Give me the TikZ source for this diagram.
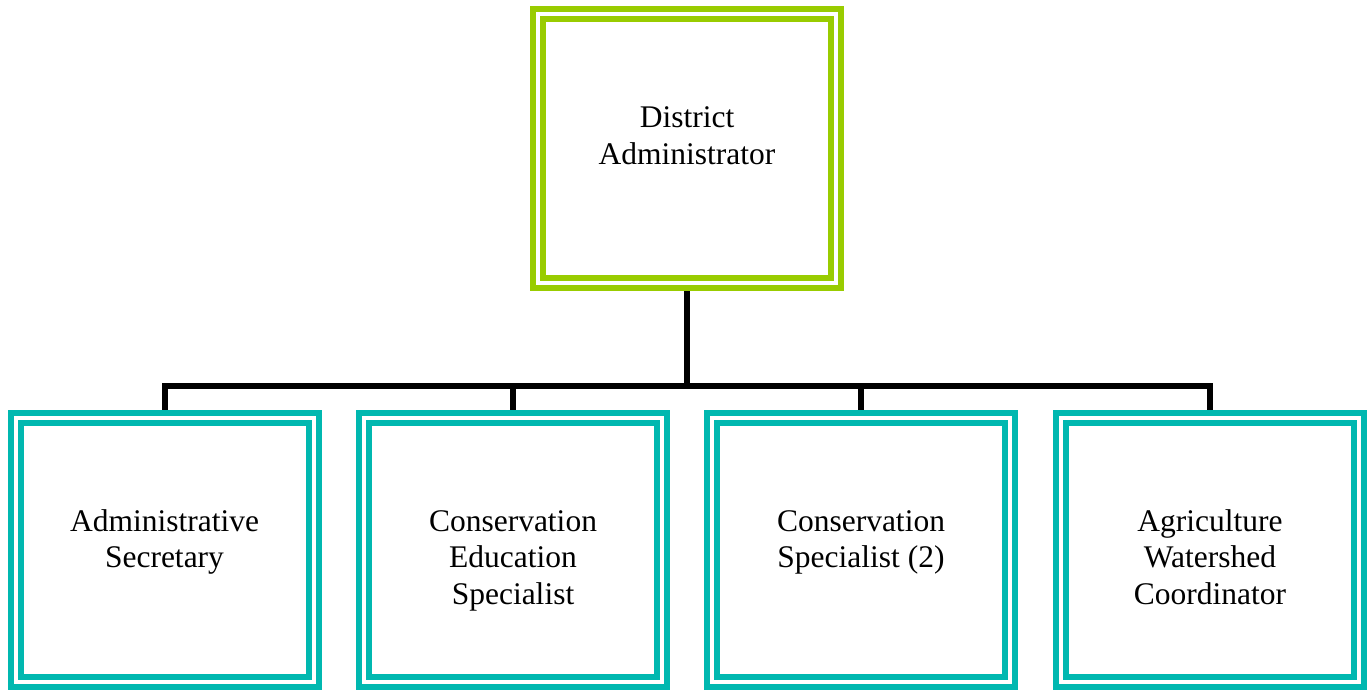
\documentclass[tikz,border=0pt]{standalone}
\usepackage{fontspec}
\setmainfont{Liberation Serif}
\definecolor{leaf}{HTML}{99CC00}
\definecolor{tealframe}{HTML}{00B8B0}
\begin{document}
\begin{tikzpicture}[x=1pt,y=-1pt,
  frame/.style={draw=#1, line width=6pt, double=white, double distance=4pt,
    inner sep=0pt, outer sep=8pt, minimum width=298pt, minimum height=264pt},
  roletext/.style={font=\fontsize{31.5}{36.5}\selectfont, align=center,
    inner sep=0pt, anchor=north},
  conn/.style={draw=black, line width=6pt, line join=miter}
]
\useasboundingbox (0,0) rectangle (1369,692);

% head of the district
\node[frame=leaf, minimum height=269.5pt] (head) at (687,148.75) {};
\node[roletext] (headtext) at (687,102) {\strut District\\Administrator};

% staff positions
\node[frame=tealframe] (sec)  at (164.5,550) {};
\node[frame=tealframe] (edu)  at (513,550)   {};
\node[frame=tealframe] (spec) at (861,550)   {};
\node[frame=tealframe] (agri) at (1210,550)  {};

\node[roletext] (sectext)  at (164.5,505.5) {\strut Administrative\\Secretary};
\node[roletext] (edutext)  at (513,505.5)   {\strut Conservation\\Education\\Specialist};
\node[roletext] (spectext) at (861,505.5)   {\strut Conservation\\Specialist (2)};
\node[roletext] (agritext) at (1210,505.5)  {\strut Agriculture\\Watershed\\Coordinator};

% reporting lines
\coordinate (bus) at (687,385.7);
\draw[conn] (head.south) -- (bus) -| (sec.north);
\draw[conn] (head.south) -- (bus) -| (edu.north);
\draw[conn] (head.south) -- (bus) -| (spec.north);
\draw[conn] (head.south) -- (bus) -| (agri.north);
\end{tikzpicture}
\end{document}
